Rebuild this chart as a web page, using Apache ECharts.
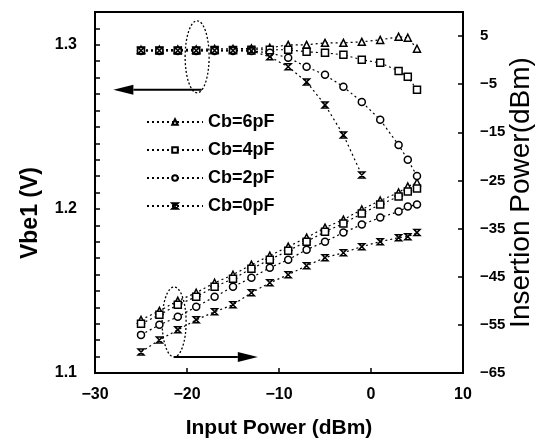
<!DOCTYPE html>
<html><head><meta charset="utf-8">
<script src="https://cdn.jsdelivr.net/npm/echarts@6/dist/echarts.min.js"></script>
<style>html,body{margin:0;padding:0;background:#fff}#c{width:538px;height:444px}</style>
</head><body><div id="c"></div>
<script>
// Input power (dBm) sample points
const inputPower = [-25,-23,-21,-19,-17,-15,-13,-11,-9,-7,-5,-3,-1,1,3,4,5];
const seriesNames = ['Cb=6pF','Cb=4pF','Cb=2pF','Cb=0pF'];
// Vbe1 (V) - left axis
const vbe6 = [1.2970,1.2970,1.2972,1.2972,1.2975,1.2975,1.2978,1.2982,1.3000,1.3000,1.3012,1.3012,1.3018,1.3030,1.3049,1.3043,1.2976];
const vbe4 = [1.2965,1.2965,1.2966,1.2966,1.2968,1.2968,1.2970,1.2970,1.2970,1.2957,1.2951,1.2939,1.2909,1.2890,1.2841,1.2805,1.2726];
const vbe2 = [1.2963,1.2963,1.2963,1.2963,1.2963,1.2963,1.2962,1.2951,1.2921,1.2866,1.2817,1.2744,1.2652,1.2543,1.2390,1.2299,1.2201];
const vbe0 = [1.2965,1.2965,1.2965,1.2965,1.2965,1.2965,1.2963,1.2927,1.2866,1.2774,1.2634,1.2451,1.2207,null,null,null,null];
// Insertion power (dBm) - right axis
const ins6 = [-53.96,-52.08,-50.00,-48.33,-46.25,-44.58,-42.50,-40.63,-38.75,-36.88,-34.79,-33.13,-31.04,-29.17,-27.50,-26.25,-25.42];
const ins4 = [-54.79,-52.92,-50.83,-49.17,-47.08,-45.42,-43.33,-41.46,-39.58,-37.71,-35.63,-33.96,-31.88,-30.00,-28.33,-27.29,-26.67];
const ins2 = [-57.08,-55.00,-53.33,-51.25,-49.17,-47.08,-45.21,-43.13,-41.46,-39.38,-37.71,-35.83,-34.17,-32.71,-31.46,-30.42,-30.00];
const ins0 = [-60.63,-58.13,-56.04,-53.96,-52.29,-50.83,-48.33,-46.25,-44.58,-42.71,-41.04,-40.00,-38.75,-37.71,-36.88,-36.67,-35.83];
// Axis ticks / labels
const xTicks = [-30,-20,-10,0,10];
const leftLabels = [1.1,1.2,1.3];
const leftTicks = [1.10,1.11,1.12,1.13,1.14,1.15,1.16,1.17,1.18,1.19,1.20,1.21,1.22,1.23,1.24,1.25,1.26,1.27,1.28,1.29,1.30,1.31];
const rightLabels = [-65,-55,-45,-35,-25,-15,-5,5];

const FONT = 'Liberation Sans';
const XSYM = 'path://M0,0 L10,0 L0,10 L10,10 Z';
const symbols = ['triangle','rect','circle',XSYM];

function mk(name, vals, yIdx, sym) {
  return {
    name: name, type: 'line', yAxisIndex: yIdx,
    data: inputPower.map((x, i) => [x, vals[i]]),
    symbol: sym, symbolSize: sym === XSYM ? 6 : 7, showSymbol: true,
    lineStyle: { color: '#000', width: 1.2, type: [2, 3] },
    itemStyle: { color: '#fff', borderColor: '#000', borderWidth: 1.5 },
    emphasis: { disabled: true }
  };
}

const chart = echarts.init(document.getElementById('c'));
const topData = [vbe6, vbe4, vbe2, vbe0];
const botData = [ins6, ins4, ins2, ins0];
const series = [];
for (let k = 0; k < 4; k++) {
  series.push(mk(seriesNames[k], topData[k], 0, symbols[k]));
  series.push(mk(seriesNames[k], botData[k], 1, symbols[k]));
}

const lbl = { color: '#000', fontFamily: FONT, fontWeight: 'bold', fontSize: 16 };
const minusFmt = v => (v < 0 ? '\u2212' + Math.abs(v) : '' + v);

chart.setOption({
  animation: false,
  backgroundColor: '#fff',
  grid: { left: 95, right: 75, top: 12, bottom: 71, show: true, borderColor: '#000', borderWidth: 2,
          backgroundColor: 'transparent', containLabel: false, outerBoundsMode: 'none' },
  legend: {
    data: seriesNames, orient: 'vertical', left: 141, top: 108,
    itemWidth: 56, itemHeight: 7, itemGap: 10,
    textStyle: { color: '#000', fontFamily: FONT, fontWeight: 'bold', fontSize: 18 },
    selectedMode: false
  },
  xAxis: {
    type: 'value', min: -30, max: 10, interval: 10,
    name: 'Input Power (dBm)', nameLocation: 'middle', nameGap: 45,
    nameTextStyle: { color: '#000', fontFamily: FONT, fontWeight: 'bold', fontSize: 21 },
    axisLine: { onZero: false, lineStyle: { color: '#000', width: 2 } },
    axisTick: { inside: true, length: 5, lineStyle: { color: '#000', width: 1.5 } },
    axisLabel: Object.assign({ margin: 14, customValues: xTicks, formatter: minusFmt }, lbl),
    splitLine: { show: false }
  },
  yAxis: [{
    type: 'value', min: 1.1, max: 1.32, position: 'left',
    axisLine: { onZero: false, lineStyle: { color: '#000', width: 2 } },
    axisTick: { inside: true, length: 5, customValues: leftTicks, lineStyle: { color: '#000', width: 1.5 } },
    axisLabel: Object.assign({ margin: 18, customValues: leftLabels, formatter: v => v.toFixed(1) }, lbl),
    splitLine: { show: false }
  }, {
    type: 'value', min: -65, max: 10, position: 'right',
    name: 'Insertion Power(dBm)', nameLocation: 'middle', nameGap: 44, nameRotate: 90, nameMoveOverlap: false,
    nameTextStyle: { color: '#000', fontFamily: FONT, fontSize: 28 },
    axisLine: { onZero: false, lineStyle: { color: '#000', width: 2 } },
    axisTick: { inside: true, length: 5, customValues: rightLabels, lineStyle: { color: '#000', width: 1.5 } },
    axisLabel: Object.assign({ margin: 17, customValues: rightLabels, formatter: minusFmt }, lbl, { fontSize: 15 }),
    splitLine: { show: false }
  }],
  series: series
});

// Annotations (ellipses + arrows) placed in data coordinates
const topEll = { x: -18.9, y: 1.2927, rx: 12, ry: 36 };
const topArrow = { y: 1.2726, from: -18.4, to: -28.0 };
const botEll = { x: -21.4, y: -54.4, rx: 12, ry: 35 };
const botArrow = { y: -61.7, from: -21.4, to: -12.3 };
const leftTitle = { text: 'Vbe1 (V)', y: 1.1975 };

function px(x, y, yi) { return chart.convertToPixel({ xAxisIndex: 0, yAxisIndex: yi }, [x, y]); }
function arrow(a, yi) {
  const p0 = px(a.from, a.y, yi), p1 = px(a.to, a.y, yi);
  const dir = p1[0] > p0[0] ? 1 : -1;
  const hl = 20, hw = 5;
  return [
    { type: 'line', shape: { x1: p0[0], y1: p0[1], x2: p1[0] - dir * hl, y2: p1[1] }, style: { stroke: '#000', lineWidth: 2 } },
    { type: 'polygon', shape: { points: [[p1[0], p1[1]], [p1[0] - dir * hl, p1[1] - hw], [p1[0] - dir * hl, p1[1] + hw]] }, style: { fill: '#000' } }
  ];
}
const c1 = px(topEll.x, topEll.y, 0), c2 = px(botEll.x, botEll.y, 1);
const lt = px(-30, leftTitle.y, 0);
chart.setOption({
  graphic: [
    { type: 'ellipse', shape: { cx: c1[0], cy: c1[1], rx: topEll.rx, ry: topEll.ry }, style: { fill: 'none', stroke: '#000', lineWidth: 1.3, lineDash: [2, 2] } },
    { type: 'ellipse', shape: { cx: c2[0], cy: c2[1], rx: botEll.rx, ry: botEll.ry }, style: { fill: 'none', stroke: '#000', lineWidth: 1.3, lineDash: [2, 2] } },
    { type: 'text', x: lt[0] - 64, y: lt[1], rotation: Math.PI / 2,
      style: { text: leftTitle.text, fill: '#000', font: 'bold 23px "Liberation Sans"', align: 'center', verticalAlign: 'middle' } }
  ].concat(arrow(topArrow, 0), arrow(botArrow, 1))
});
</script></body></html>
